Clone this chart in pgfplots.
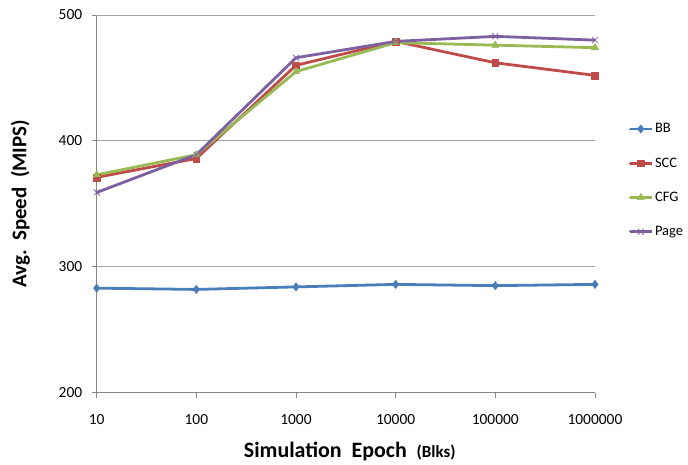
\documentclass[border=0pt]{standalone}
\usepackage{fontspec}
\setmainfont{Carlito}
\usepackage{pgfplots}
\pgfplotsset{compat=1.18}

\definecolor{bbblue}{HTML}{4A7EBB}
\definecolor{sccred}{HTML}{BE4B48}
\definecolor{cfggreen}{HTML}{98B954}
\definecolor{pagepurple}{HTML}{7D60A0}
\definecolor{axisgray}{HTML}{868686}
\definecolor{gridgray}{HTML}{A6A6A6}

\begin{document}
\begin{tikzpicture}
\begin{axis}[
  scale only axis,
  width=500pt, height=379pt,
  xmode=log,
  xmin=10, xmax=1000000,
  ymin=200, ymax=500,
  xtick={10,100,1000,10000,100000,1000000},
  xticklabels={10,100,1000,10000,100000,1000000},
  ytick={200,300,400,500},
  xminorticks=false,
  axis lines*=left,
  axis line style={axisgray, line width=0.8pt, -},
  tick style={axisgray, line width=0.8pt},
  tick align=outside,
  major tick length=5pt,
  ymajorgrids,
  major grid style={gridgray, line width=0.8pt},
  /pgf/number format/assume math mode=true,
  ticklabel style={font=\fontsize{15.5}{18}\selectfont, black},
  xticklabel style={anchor=center, yshift=-22pt},
  yticklabel style={anchor=east, xshift=-6pt},
  xlabel={\textbf{Simulation\ \ Epoch}\ \ \textbf{\fontsize{17}{20}\selectfont(Blks)}},
  ylabel={\textbf{Avg.\ \ Speed\ \ (MIPS)}},
  xlabel style={font=\fontsize{22}{26}\selectfont, at={(rel axis cs:0.5,0)}, anchor=center, yshift=-59pt, xshift=4pt},
  ylabel style={font=\fontsize{21}{25}\selectfont, yshift=22pt},
  clip=false,
  every axis plot/.append style={line width=2.8pt, line join=round},
  legend cell align=left,
  legend style={
    draw=none, fill=none,
    at={(1.061,0.562)}, anchor=west,
    font=\fontsize{14.5}{17}\selectfont,
    row sep=19.5pt,
    /tikz/every even column/.append style={column sep=1pt},
  },
  legend image code/.code={
    \draw[#1, line width=2.6pt] (0pt,0pt) -- (22pt,0pt);
    \draw[#1, line width=0pt, mark repeat=2, mark phase=2] plot coordinates {(0pt,0pt) (11pt,0pt) (22pt,0pt)};
  },
]
\addplot[color=bbblue, mark=diamond*, mark size=4.2pt, mark options={solid, line width=0.5pt}]
  coordinates {(10,283) (100,282) (1000,284) (10000,286) (100000,285) (1000000,286)};
\addlegendentry{BB}
\addplot[color=sccred, mark=square*, mark size=3.4pt, mark options={solid, line width=0.5pt}]
  coordinates {(10,371) (100,386) (1000,460) (10000,479) (100000,462) (1000000,452)};
\addlegendentry{SCC}
\addplot[color=cfggreen, mark=triangle*, mark size=4.2pt, mark options={solid, line width=0.5pt}]
  coordinates {(10,373) (100,389) (1000,455) (10000,478) (100000,476) (1000000,474)};
\addlegendentry{CFG}
\addplot[color=pagepurple, mark=x, mark size=4.2pt, mark options={solid, line width=0.8pt}]
  coordinates {(10,359) (100,389) (1000,466) (10000,479) (100000,483) (1000000,480)};
\addlegendentry{Page}
\end{axis}
\useasboundingbox (-97pt,-72pt) rectangle (591pt,394pt);
\end{tikzpicture}
\end{document}
